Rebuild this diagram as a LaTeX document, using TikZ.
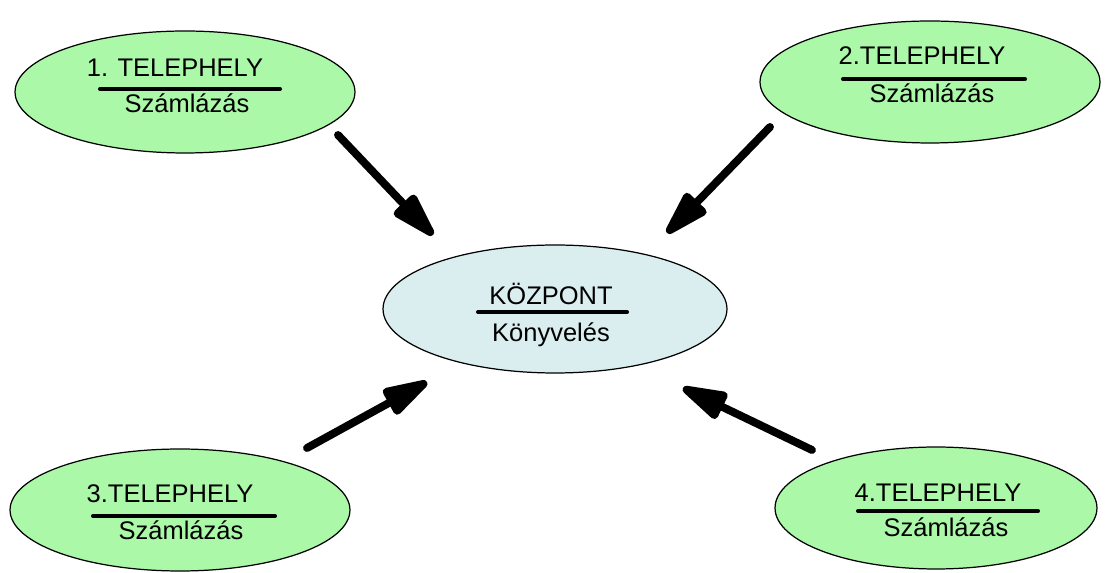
\documentclass[tikz,border=0pt]{standalone}
\usepackage{fontspec}
\setmainfont{Liberation Sans}
\usetikzlibrary{shapes.geometric,arrows.meta}
\definecolor{sitegreen}{RGB}{170,248,168}
\definecolor{centreblue}{RGB}{218,238,240}

\begin{document}
\begin{tikzpicture}[x=0.02cm,y=-0.02cm,
            site/.style={ellipse,draw=black,fill=sitegreen,line width=0.7pt,inner sep=0pt,
                minimum width=6.8cm,minimum height=2.44cm},
            centre/.style={site,fill=centreblue,minimum width=6.88cm,minimum height=2.56cm},
            txt/.style={font=\fontsize{14.5}{17}\selectfont,inner sep=0pt,anchor=base},
            titlerule/.style={line width=2.3pt,line cap=round},
            flow/.style={line width=4.5pt,line cap=round,-{Triangle[length=1.1cm,width=0.6cm,round]}}]

        \useasboundingbox (0,0) rectangle (1109,573);

        \node[site] (s1) at (185,92) {};
        \node[site] (s2) at (930,82) {};
        \node[centre] (kp) at (555,309) {};
        \node[site] (s3) at (180,510) {};
        \node[site, minimum width=6.44cm] (s4) at (936,508) {};

        \node[txt] (t1) at (175,77) {1. TELEPHELY};
        \node[txt] (n1) at (187,113) {Számlázás};
        \node[txt] (t2) at (922,65) {2.TELEPHELY};
        \node[txt] (n2) at (932,103) {Számlázás};
        \node[txt] (tk) at (551,305) {KÖZPONT};
        \node[txt] (nk) at (551,342) {Könyvelés};
        \node[txt] (t3) at (170,503) {3.TELEPHELY};
        \node[txt] (n3) at (181,540) {Számlázás};
        \node[txt] (t4) at (938,502) {4.TELEPHELY};
        \node[txt] (n4) at (946,537) {Számlázás};

        % rules under the titles
        \draw[titlerule] (100,89) -- (280,89);
        \draw[titlerule] (843,79) -- (1025,79);
        \draw[titlerule] (478,312) -- (627,312);
        \draw[titlerule] (93,516) -- (275,516);
        \draw[titlerule] (858,511) -- (1038,511);

        \coordinate (a1) at (338,135);
        \coordinate (b1) at (433,235);
        \coordinate (a2) at (770,127);
        \coordinate (b2) at (667,233);
        \coordinate (a3) at (307,448);
        \coordinate (b3) at (427,382);
        \coordinate (a4) at (812,450);
        \coordinate (b4) at (683,388);

        \draw[flow] (a1) -- (b1);
        \draw[flow] (a2) -- (b2);
        \draw[flow] (a3) -- (b3);
        \draw[flow] (a4) -- (b4);

    \end{tikzpicture}
\end{document}
